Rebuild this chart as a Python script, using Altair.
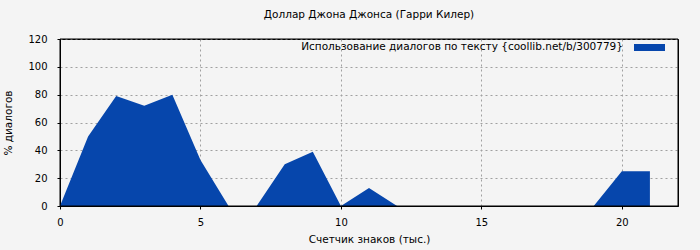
import altair as alt
import pandas as pd

# Data
chars_k = [0, 1, 2, 3, 4, 5, 6, 7, 8, 9, 10, 11, 12, 13, 14, 15, 16, 17, 18, 19, 20, 21]
dialog_pct = [0, 50, 79, 72, 80, 33, 0, 0, 30, 39, 0, 13, 0, 0, 0, 0, 0, 0, 0, 0, 25, 25]

title_text = "Доллар Джона Джонса (Гарри Килер)"
x_title = "Счетчик знаков (тыс.)"
y_title = "% диалогов"
legend_label = "Использование диалогов по тексту {coollib.net/b/300779}"
x_ticks = [0, 5, 10, 15, 20]
y_ticks = [0, 20, 40, 60, 80, 100, 120]

FONT = "DejaVu Sans"
BLUE = "#0646AC"
TXT = 10.5

df = pd.DataFrame({"x": chars_k, "y": dialog_pct})

area = alt.Chart(df).mark_area(color=BLUE, opacity=1, interpolate="linear").encode(
    x=alt.X("x:Q", scale=alt.Scale(domain=[0, 22], nice=False, zero=False),
            axis=alt.Axis(values=x_ticks, title=x_title, format="d", labelPadding=8,
                          titlePadding=7, labelFlush=False)),
    y=alt.Y("y:Q", scale=alt.Scale(domain=[0, 120], nice=False),
            axis=alt.Axis(values=y_ticks, title=y_title, labelPadding=10, titlePadding=14,
                          labelFlush=False)),
)

legend_text = alt.Chart(pd.DataFrame({"t": [legend_label]})).mark_text(
    align="right", baseline="middle", font=FONT, fontSize=TXT, color="black"
).encode(x=alt.value(563), y=alt.value(8), text="t:N")

legend_swatch = alt.Chart(pd.DataFrame({"t": [legend_label]})).mark_rect(color=BLUE).encode(
    x=alt.value(574), x2=alt.value(605), y=alt.value(5), y2=alt.value(12)
)

border = alt.Chart(pd.DataFrame({"t": [0]})).mark_rect(
    fill=None, filled=False, stroke="black", strokeWidth=1
).encode(
    x=alt.value(0), x2=alt.value({"expr": "width"}),
    y=alt.value(0), y2=alt.value({"expr": "height"})
)

chart = alt.layer(area, legend_text, legend_swatch, border).properties(
    width=618, height=167,
    autosize=alt.AutoSizeParams(type="none"),
    padding={"left": 60, "top": 39, "right": 22, "bottom": 44},
    background="#f4f4f4",
    title=alt.TitleParams(title_text, font=FONT, fontSize=TXT, fontWeight="normal",
                          anchor="middle", offset=14, color="black"),
).configure_view(
    stroke="black", strokeWidth=1, fill="#f4f4f4"
).configure_axis(
    labelFont=FONT, labelFontSize=10, labelColor="black",
    titleFont=FONT, titleFontSize=TXT, titleFontWeight="normal", titleColor="black",
    domainColor="black", tickColor="black", tickSize=3,
    grid=True, gridColor="#a0a0a0", gridDash=[2, 3], gridWidth=1,
)

chart.save("out.html", embed_options={"renderer": "svg", "actions": False})
